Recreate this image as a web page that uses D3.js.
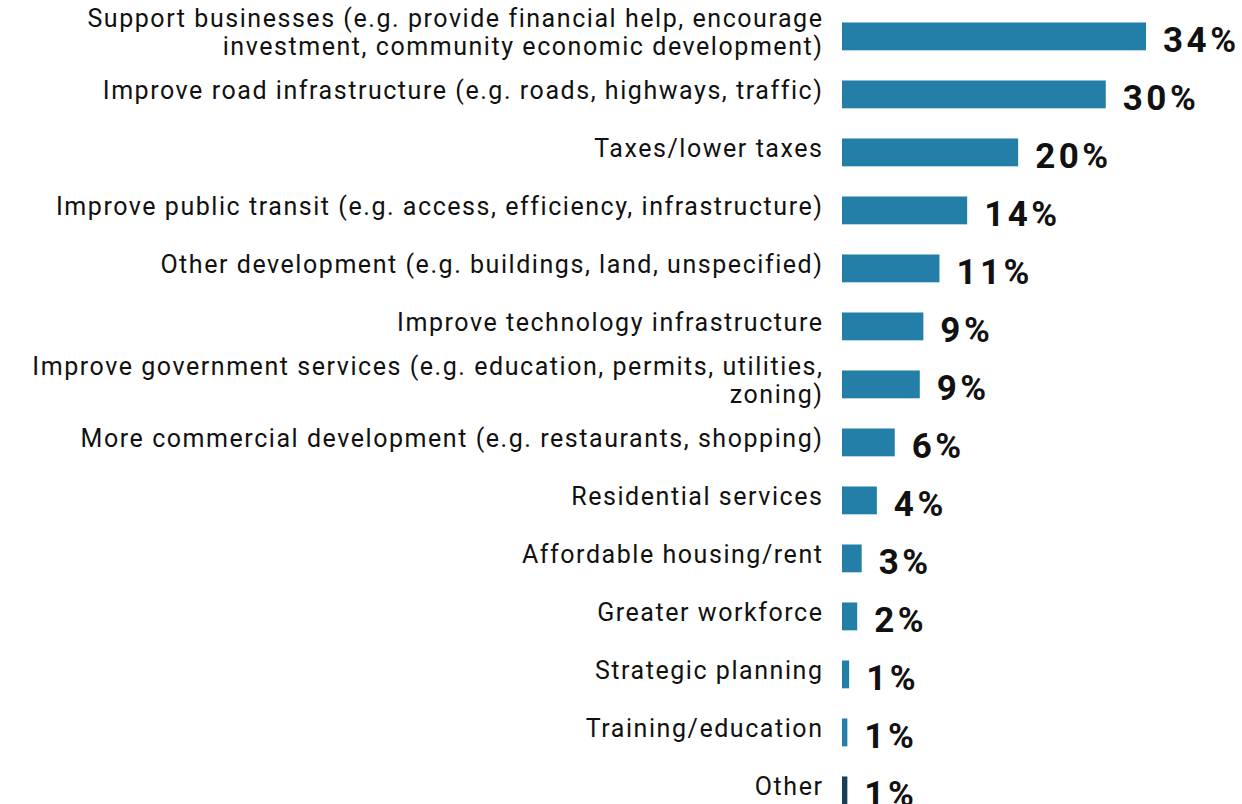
<!DOCTYPE html>
<html>
<head>
<meta charset="utf-8">
<script src="https://cdn.jsdelivr.net/npm/d3@7"></script>
<style>
  html, body { margin: 0; padding: 0; background: #fff; }
  svg { display: block; }
  .cat { font-family: Roboto, "Noto Sans", sans-serif; font-size: 25px; letter-spacing: 1.55px; fill: #111; }
  .val { font-family: Roboto, "Noto Sans", sans-serif; font-size: 35px; font-weight: 700; letter-spacing: 3.5px; fill: #111; }
</style>
</head>
<body>
<svg id="chart" width="1242" height="804"></svg>
<script>
// categories, one entry per line of a wrapped label
var categories = [
    ['Support businesses (e.g. provide financial help, encourage', 'investment, community economic development)'],
    ['Improve road infrastructure (e.g. roads, highways, traffic)'],
    ['Taxes/lower taxes'],
    ['Improve public transit (e.g. access, efficiency, infrastructure)'],
    ['Other development (e.g. buildings, land, unspecified)'],
    ['Improve technology infrastructure'],
    ['Improve government services (e.g. education, permits, utilities,', 'zoning)'],
    ['More commercial development (e.g. restaurants, shopping)'],
    ['Residential services'],
    ['Affordable housing/rent'],
    ['Greater workforce'],
    ['Strategic planning'],
    ['Training/education'],
    ['Other']
]
var values = [34, 29.5, 19.7, 14, 10.9, 9.1, 8.7, 5.9, 3.9, 2.2, 1.7, 0.8, 0.6, 0.6]
var valueLabels = ['34%', '30%', '20%', '14%', '11%', '9%', '9%', '6%', '4%', '3%', '2%', '1%', '1%', '1%']

var conf = {
    left: 842,
    labelRight: 822,
    unit: 304 / 34,
    barColor: '#237fa8',
    otherColor: '#173f55'
}

var svg = d3.select('#chart')
var idx = d3.range(categories.length)

var x = d3.scaleLinear()
    .domain([0, 34])
    .range([conf.left, conf.left + 34 * conf.unit])

var y = d3.scaleBand()
    .domain(idx)
    .range([7.4, 819.4])
    .paddingInner(0.52)
    .paddingOuter(0.26)

var rows = svg.selectAll('g.row')
    .data(idx)
    .enter().append('g')
    .attr('class', 'row')

rows.append('rect')
    .attr('x', x(0))
    .attr('y', i => y(i))
    .attr('width', i => x(values[i]) - x(0))
    .attr('height', y.bandwidth())
    .attr('fill', i => categories[i][0] === 'Other' ? conf.otherColor : conf.barColor)

rows.append('text')
    .attr('class', 'val')
    .attr('x', i => x(values[i]) + 17)
    .attr('y', i => y(i) + y.bandwidth() / 2 + 16)
    .text(i => valueLabels[i])

// letter-spacing pads the end of the line too, so shift the anchor by one gap
rows.each(function(i) {
    var lines = categories[i]
    var mid = y(i) + y.bandwidth() / 2
    var top = lines.length > 1 ? mid - 9 : mid + 5
    d3.select(this).selectAll('text.cat')
        .data(lines)
        .enter().append('text')
        .attr('class', 'cat')
        .attr('x', conf.labelRight + 1.5)
        .attr('y', (d, k) => top + k * 28)
        .attr('text-anchor', 'end')
        .text(d => d)
})
</script>
</body>
</html>
